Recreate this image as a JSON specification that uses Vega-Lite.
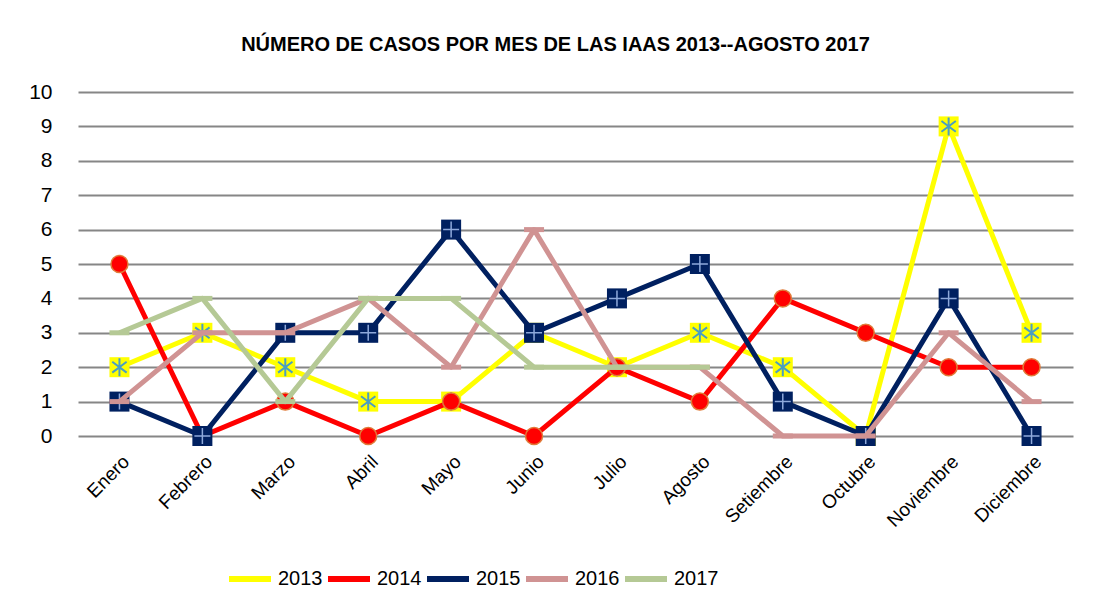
{
  "$schema": "https://vega.github.io/schema/vega-lite/v6.json",
  "width": 995,
  "height": 344,
  "autosize": {"type": "none"},
  "padding": {"left": 78, "top": 92, "right": 21, "bottom": 173},
  "background": "white",
  "title": {
    "text": "NÚMERO DE CASOS POR MES  DE LAS IAAS  2013--AGOSTO 2017",
    "font": "Liberation Sans",
    "fontSize": 20,
    "fontWeight": "bold",
    "color": "#000000",
    "anchor": "middle",
    "dx": -20,
    "offset": 26
  },
  "config": {
    "view": {"stroke": null},
    "font": "Liberation Sans"
  },
  "data": {
    "values": [
      {"mes": "Enero", "anio": "2013", "casos": 2},
      {"mes": "Febrero", "anio": "2013", "casos": 3},
      {"mes": "Marzo", "anio": "2013", "casos": 2},
      {"mes": "Abril", "anio": "2013", "casos": 1},
      {"mes": "Mayo", "anio": "2013", "casos": 1},
      {"mes": "Junio", "anio": "2013", "casos": 3},
      {"mes": "Julio", "anio": "2013", "casos": 2},
      {"mes": "Agosto", "anio": "2013", "casos": 3},
      {"mes": "Setiembre", "anio": "2013", "casos": 2},
      {"mes": "Octubre", "anio": "2013", "casos": 0},
      {"mes": "Noviembre", "anio": "2013", "casos": 9},
      {"mes": "Diciembre", "anio": "2013", "casos": 3},
      {"mes": "Enero", "anio": "2014", "casos": 5},
      {"mes": "Febrero", "anio": "2014", "casos": 0},
      {"mes": "Marzo", "anio": "2014", "casos": 1},
      {"mes": "Abril", "anio": "2014", "casos": 0},
      {"mes": "Mayo", "anio": "2014", "casos": 1},
      {"mes": "Junio", "anio": "2014", "casos": 0},
      {"mes": "Julio", "anio": "2014", "casos": 2},
      {"mes": "Agosto", "anio": "2014", "casos": 1},
      {"mes": "Setiembre", "anio": "2014", "casos": 4},
      {"mes": "Octubre", "anio": "2014", "casos": 3},
      {"mes": "Noviembre", "anio": "2014", "casos": 2},
      {"mes": "Diciembre", "anio": "2014", "casos": 2},
      {"mes": "Enero", "anio": "2015", "casos": 1},
      {"mes": "Febrero", "anio": "2015", "casos": 0},
      {"mes": "Marzo", "anio": "2015", "casos": 3},
      {"mes": "Abril", "anio": "2015", "casos": 3},
      {"mes": "Mayo", "anio": "2015", "casos": 6},
      {"mes": "Junio", "anio": "2015", "casos": 3},
      {"mes": "Julio", "anio": "2015", "casos": 4},
      {"mes": "Agosto", "anio": "2015", "casos": 5},
      {"mes": "Setiembre", "anio": "2015", "casos": 1},
      {"mes": "Octubre", "anio": "2015", "casos": 0},
      {"mes": "Noviembre", "anio": "2015", "casos": 4},
      {"mes": "Diciembre", "anio": "2015", "casos": 0},
      {"mes": "Enero", "anio": "2016", "casos": 1},
      {"mes": "Febrero", "anio": "2016", "casos": 3},
      {"mes": "Marzo", "anio": "2016", "casos": 3},
      {"mes": "Abril", "anio": "2016", "casos": 4},
      {"mes": "Mayo", "anio": "2016", "casos": 2},
      {"mes": "Junio", "anio": "2016", "casos": 6},
      {"mes": "Julio", "anio": "2016", "casos": 2},
      {"mes": "Agosto", "anio": "2016", "casos": 2},
      {"mes": "Setiembre", "anio": "2016", "casos": 0},
      {"mes": "Octubre", "anio": "2016", "casos": 0},
      {"mes": "Noviembre", "anio": "2016", "casos": 3},
      {"mes": "Diciembre", "anio": "2016", "casos": 1},
      {"mes": "Enero", "anio": "2017", "casos": 3},
      {"mes": "Febrero", "anio": "2017", "casos": 4},
      {"mes": "Marzo", "anio": "2017", "casos": 1},
      {"mes": "Abril", "anio": "2017", "casos": 4},
      {"mes": "Mayo", "anio": "2017", "casos": 4},
      {"mes": "Junio", "anio": "2017", "casos": 2},
      {"mes": "Julio", "anio": "2017", "casos": 2},
      {"mes": "Agosto", "anio": "2017", "casos": 2}
    ]
  },
  "encoding": {
    "x": {
      "field": "mes",
      "type": "ordinal",
      "sort": ["Enero", "Febrero", "Marzo", "Abril", "Mayo", "Junio", "Julio", "Agosto", "Setiembre", "Octubre", "Noviembre", "Diciembre"],
      "scale": {"type": "point", "padding": 0.5},
      "axis": {
        "title": null,
        "domain": false,
        "ticks": false,
        "labelAngle": -45,
        "labelAlign": "right",
        "labelBaseline": "top",
        "labelPadding": 16,
        "labelFontSize": 19,
        "labelColor": "#000000",
        "labelFont": "Liberation Sans"
      }
    },
    "y": {
      "field": "casos",
      "type": "quantitative",
      "scale": {"domain": [0, 10], "nice": false, "zero": true},
      "axis": {
        "title": null,
        "domain": false,
        "ticks": false,
        "values": [0, 1, 2, 3, 4, 5, 6, 7, 8, 9, 10],
        "grid": true,
        "gridColor": "#868686",
        "gridWidth": 2,
        "gridOpacity": 1,
        "labelPadding": 26,
        "labelFontSize": 21,
        "labelColor": "#000000",
        "labelFont": "Liberation Sans"
      }
    }
  },
  "layer": [
    {
      "transform": [{"filter": "datum.anio == '2013'"}],
      "mark": {"type": "line", "strokeWidth": 5, "strokeJoin": "round"},
      "encoding": {
        "color": {
          "field": "anio",
          "type": "nominal",
          "scale": {"domain": ["2013", "2014", "2015", "2016", "2017"], "range": ["#FFFF00", "#FF0000", "#002060", "#D09393", "#B5C995"]},
          "legend": {
            "title": null,
            "orient": "none",
            "direction": "horizontal",
            "legendX": 148,
            "legendY": 463,
            "symbolType": "stroke",
            "symbolSize": 1764,
            "symbolStrokeWidth": 6,
            "labelFontSize": 20,
            "labelFont": "Liberation Sans",
            "labelColor": "#000000",
            "labelOffset": 4,
            "columnPadding": -7,
            "padding": 0
          }
        }
      }
    },
    {
      "transform": [{"filter": "datum.anio == '2013'"}],
      "mark": {"type": "point", "shape": "square", "filled": true, "color": "#FFFF00", "size": 400, "opacity": 1}
    },
    {
      "transform": [{"filter": "datum.anio == '2013'"}],
      "mark": {"type": "point", "shape": "M0,-1L0,1M-0.8,-0.6L0.8,0.6M-0.8,0.6L0.8,-0.6", "filled": false, "stroke": "#4A9EC2", "strokeWidth": 2, "size": 324, "opacity": 1}
    },
    {
      "transform": [{"filter": "datum.anio == '2014'"}],
      "mark": {"type": "line", "strokeWidth": 5, "strokeJoin": "round"},
      "encoding": {"color": {"field": "anio", "type": "nominal"}}
    },
    {
      "transform": [{"filter": "datum.anio == '2014'"}],
      "mark": {"type": "point", "shape": "circle", "filled": true, "fill": "#FF0000", "stroke": "#E07B39", "strokeWidth": 1.5, "size": 290, "opacity": 1}
    },
    {
      "transform": [{"filter": "datum.anio == '2015'"}],
      "mark": {"type": "line", "strokeWidth": 5, "strokeJoin": "round"},
      "encoding": {"color": {"field": "anio", "type": "nominal"}}
    },
    {
      "transform": [{"filter": "datum.anio == '2015'"}],
      "mark": {"type": "point", "shape": "square", "filled": true, "color": "#002060", "size": 400, "opacity": 1}
    },
    {
      "transform": [{"filter": "datum.anio == '2015'"}],
      "mark": {"type": "point", "shape": "M0,-1L0,1M-1,0L1,0", "filled": false, "stroke": "#8EA9DB", "strokeWidth": 1.5, "size": 256, "opacity": 1}
    },
    {
      "transform": [{"filter": "datum.anio == '2016'"}],
      "mark": {"type": "line", "strokeWidth": 5, "strokeJoin": "round"},
      "encoding": {"color": {"field": "anio", "type": "nominal"}}
    },
    {
      "transform": [{"filter": "datum.anio == '2016'"}],
      "mark": {"type": "point", "shape": "M-1,-0.25L1,-0.25L1,0.25L-1,0.25Z", "filled": true, "color": "#D09393", "size": 400, "opacity": 1}
    },
    {
      "transform": [{"filter": "datum.anio == '2017'"}],
      "mark": {"type": "line", "strokeWidth": 5, "strokeJoin": "round"},
      "encoding": {"color": {"field": "anio", "type": "nominal"}}
    },
    {
      "transform": [{"filter": "datum.anio == '2017'"}],
      "mark": {"type": "point", "shape": "M-1,-0.25L1,-0.25L1,0.25L-1,0.25Z", "filled": true, "color": "#B5C995", "size": 400, "opacity": 1}
    }
  ]
}
